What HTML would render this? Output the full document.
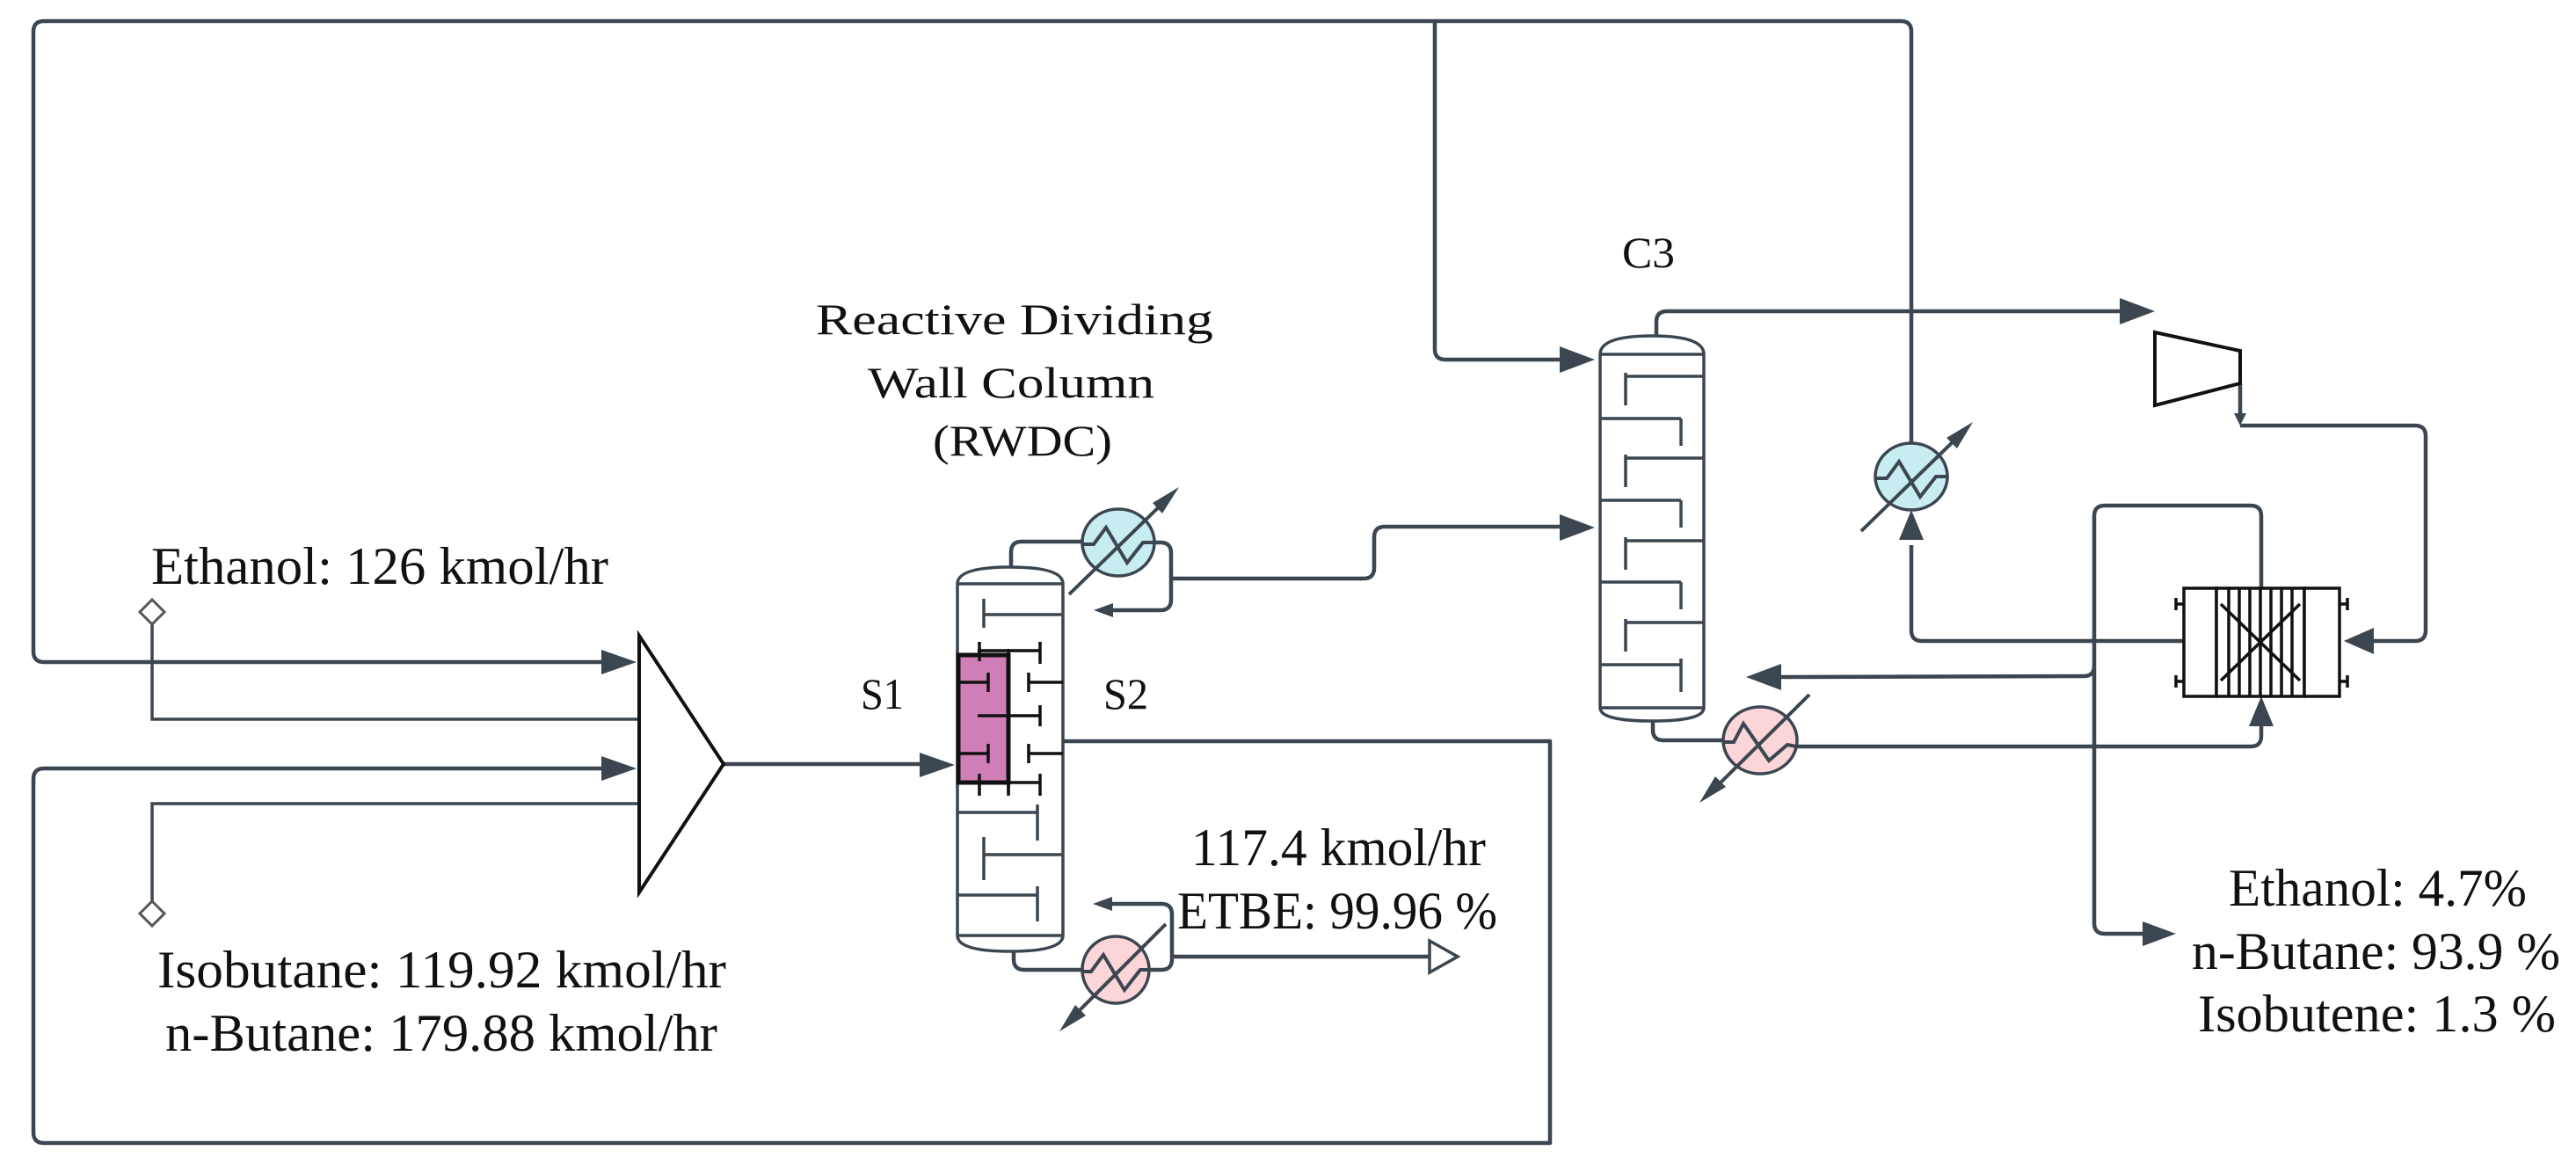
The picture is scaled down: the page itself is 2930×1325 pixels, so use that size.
<!DOCTYPE html>
<html><head><meta charset="utf-8"><style>
html,body{margin:0;padding:0;background:#fff;}
svg{display:block;}
text{font-family:"Liberation Serif",serif;fill:#111;}
</style></head><body>
<svg width="2930" height="1325" viewBox="0 0 2930 1325" xmlns="http://www.w3.org/2000/svg">
<g fill="none" stroke="#3b4651" stroke-width="4.5" stroke-linejoin="round">
<path d="M684,753 L50,753 Q38,753 38,741 L38,36 Q38,24 50,24 L2162,24 Q2174,24 2174,36 L2174,505"/>
<path d="M1632,24 L1632,397 Q1632,409 1644,409 L1784,409"/>
<path d="M1209,843 L1763,843 L1763,1300 L50,1300 Q38,1300 38,1288 L38,886 Q38,874 50,874 L690,874"/>
<path d="M823,869 L1050,869"/>
<path d="M1150,645 L1150,628 Q1150,616 1162,616 L1231,616"/>
<path d="M1313,617 L1320,617 Q1332,617 1332,629 L1332,682 Q1332,694 1320,694 L1262,694"/>
<path d="M1332,658 L1551,658 Q1563,658 1563,646 L1563,611 Q1563,599 1575,599 L1784,599"/>
<path d="M1153,1080 L1153,1091 Q1153,1103 1165,1103 L1231,1103"/>
<path d="M1307,1103 L1321,1103 Q1333,1103 1333,1091 L1333,1040 Q1333,1028 1321,1028 L1262,1028"/>
<path d="M1333,1088 L1626,1088"/>
<path d="M1884,382 L1884,366 Q1884,354 1896,354 L2418,354"/>
<path d="M2548,436 L2548,472"/>
<path d="M2548,484 L2747,484 Q2759,484 2759,496 L2759,717 Q2759,729 2747,729 L2695,729"/>
<path d="M1880,818 L1880,830 Q1880,842 1892,842 L1960,842"/>
<path d="M2043,849 L2560,849 Q2572,849 2572,837 L2572,825"/>
<path d="M2572,669 L2572,587 Q2572,575 2560,575 L2394,575 Q2382,575 2382,587 L2382,1050 Q2382,1062 2394,1062 L2440,1062"/>
<path d="M2382,757 Q2382,769 2370,769 L2020,770"/>
<path d="M2484,729 L2186,729 Q2174,729 2174,717 L2174,620"/>
</g>
<g stroke="#3b4651" stroke-width="3.5" fill="none">
<path d="M173,710 L173,818 L727,818"/>
<path d="M173,1025 L173,914 L727,914"/>
</g>
<g fill="#fff" stroke="#555" stroke-width="3">
<polygon points="173,682 187,696 173,710 159,696"/>
<polygon points="173,1025 187,1039 173,1053 159,1039"/>
</g>
<!-- arrowheads -->
<g fill="#3b4651">
<polygon points="684,739 724,753 684,767"/>
<polygon points="684,860 724,874 684,888"/>
<polygon points="1046,856 1086,870 1046,884"/>
<polygon points="1244,694 1266,686 1266,702"/>
<polygon points="1243,1028 1265,1020 1265,1036"/>
<polygon points="1774,394 1814,409 1774,424"/>
<polygon points="1774,585 1814,600 1774,615"/>
<polygon points="2411,339 2451,354 2411,369"/>
<polygon points="2541,470 2548,484 2555,470"/>
<polygon points="1986,770 2026,755 2026,785"/>
<polygon points="2666,729 2700,714 2700,744"/>
<polygon points="2572,792 2558,826 2586,826"/>
<polygon points="2174,580 2160,614 2188,614"/>
<polygon points="2475,1062 2437,1048 2437,1076"/>
</g>
<polygon points="1626,1070 1658,1088 1626,1106" fill="#fff" stroke="#3b4651" stroke-width="3.5"/>
<!-- mixer -->
<polygon points="727,723 823,869 727,1015" fill="#fff" stroke="#111" stroke-width="4"/>
<!-- RWDC column -->
<g stroke="#3b4651" stroke-width="3.5" fill="#fff">
<path d="M1089,664 Q1089,645 1149,645 Q1209,645 1209,664 L1209,1064 Q1209,1082 1149,1082 Q1089,1082 1089,1064 Z"/>
<path d="M1089,664 L1209,664 M1089,1064 L1209,1064" fill="none"/>
<path d="M1119,699 L1209,699 M1119,681 L1119,714" fill="none"/>
<path d="M1089,924 L1180,924 M1180,915 L1180,956 M1119,972 L1209,972 M1119,952 L1119,1001 M1089,1018 L1180,1018 M1180,1008 L1180,1048" fill="none"/>
</g>
<rect x="1090" y="745" width="57" height="145" fill="#cf7fb6" stroke="#111" stroke-width="5"/>
<g stroke="#111" stroke-width="3.5" fill="none">
<path d="M1147,738 L1147,902"/>
<path d="M1112,740 L1183,740 M1183,730 L1183,755"/>
<path d="M1170,776 L1209,776 M1170,765 L1170,787"/>
<path d="M1112,814 L1183,814 M1183,802 L1183,826"/>
<path d="M1170,857 L1209,857 M1170,846 L1170,868"/>
<path d="M1112,890 L1183,890 M1183,880 L1183,905"/>
<path d="M1090,776 L1124,776 M1124,765 L1124,787"/>
<path d="M1090,857 L1124,857 M1124,846 L1124,868"/>
<path d="M1114,730 L1114,752 M1114,880 L1114,905 M1147,890 L1147,905"/>
</g>
<!-- C3 column -->
<g stroke="#3b4651" stroke-width="3.5" fill="#fff">
<path d="M1820,403 Q1820,382 1879,382 Q1938,382 1938,403 L1938,805 Q1938,820 1879,820 Q1820,820 1820,805 Z"/>
<g fill="none">
<path d="M1820,403 L1938,403 M1820,805 L1938,805"/>
<path d="M1849,428 L1938,428 M1849,424 L1849,461"/>
<path d="M1820,476 L1912,476 M1912,476 L1912,507"/>
<path d="M1849,521 L1938,521 M1849,517 L1849,554"/>
<path d="M1820,569 L1912,569 M1912,569 L1912,600"/>
<path d="M1849,615 L1938,615 M1849,611 L1849,648"/>
<path d="M1820,662 L1912,662 M1912,662 L1912,693"/>
<path d="M1849,708 L1938,708 M1849,704 L1849,741"/>
<path d="M1820,756 L1912,756 M1912,749 L1912,787"/>
</g>
</g>
<!-- heat exchangers (circles) -->
<g stroke="#3b4651" stroke-width="3.5">
<ellipse cx="1272" cy="617" rx="41" ry="38" fill="#c8edf1"/>
<ellipse cx="2174" cy="542" rx="41" ry="38" fill="#c8edf1"/>
<ellipse cx="1269" cy="1103" rx="38" ry="38" fill="#fbd5d7"/>
<ellipse cx="2002" cy="842" rx="42" ry="38" fill="#fbd5d7"/>
</g>
<g stroke="#3b4651" stroke-width="4" fill="none">
<path d="M1231,619 L1244,619 L1258,600 L1282,640 L1300,617 L1313,617"/>
<path d="M2133,544 L2146,544 L2160,525 L2184,565 L2202,542 L2215,542"/>
<path d="M1231,1105 L1241,1105 L1255,1086 L1279,1126 L1297,1103 L1307,1103"/>
<path d="M1960,844 L1972,844 L1983,823 L2012,865 L2033,847 L2043,849"/>
<path d="M1216,676 L1328,567"/>
<path d="M2117,604 L2232,492"/>
<path d="M1326,1051 L1216,1161"/>
<path d="M2058,790 L1945,902"/>
</g>
<g fill="#3b4651">
<polygon points="1341,554 1322,584 1311,572"/>
<polygon points="2244,480 2226,510 2214,498"/>
<polygon points="1205,1173 1223,1143 1235,1155"/>
<polygon points="1933,913 1951,883 1963,895"/>
</g>
<!-- compressor -->
<polygon points="2451,378 2548,399 2548,436 2451,461" fill="#fff" stroke="#111" stroke-width="4"/>
<!-- HX -->
<g stroke="#111" stroke-width="3.5" fill="#fff">
<rect x="2484" y="669" width="37" height="123"/>
<rect x="2521" y="669" width="100" height="123"/>
<rect x="2621" y="669" width="40" height="123"/>
<g fill="none">
<path d="M2535,669 L2535,792 M2547,669 L2547,792 M2559,669 L2559,792 M2571,669 L2571,792 M2583,669 L2583,792 M2595,669 L2595,792 M2607,669 L2607,792"/>
<path d="M2526,687 L2616,774 M2526,774 L2616,687"/>
<path d="M2475,687 L2484,687 M2475,680 L2475,694 M2475,775 L2484,775 M2475,768 L2475,782"/>
<path d="M2661,687 L2670,687 M2670,680 L2670,694 M2661,775 L2670,775 M2670,768 L2670,782"/>
</g>
</g>
<!-- texts -->
<g font-size="60">
<text x="172" y="664" textLength="520" lengthAdjust="spacingAndGlyphs">Ethanol: 126 kmol/hr</text>
<text x="179" y="1123" textLength="647" lengthAdjust="spacingAndGlyphs">Isobutane: 119.92 kmol/hr</text>
<text x="188" y="1195" textLength="628" lengthAdjust="spacingAndGlyphs">n-Butane: 179.88 kmol/hr</text>
<text x="2535" y="1030" textLength="339" lengthAdjust="spacingAndGlyphs">Ethanol: 4.7%</text>
<text x="2493" y="1102" textLength="419" lengthAdjust="spacingAndGlyphs">n-Butane: 93.9 %</text>
<text x="2500" y="1173" textLength="407" lengthAdjust="spacingAndGlyphs">Isobutene: 1.3 %</text>
<text x="1355" y="984" textLength="335" lengthAdjust="spacingAndGlyphs">117.4 kmol/hr</text>
<text x="1339" y="1056" textLength="364" lengthAdjust="spacingAndGlyphs">ETBE: 99.96 %</text>
</g>
<g font-size="50">
<text x="928" y="380" textLength="452" lengthAdjust="spacingAndGlyphs">Reactive Dividing</text>
<text x="987" y="452" textLength="326" lengthAdjust="spacingAndGlyphs">Wall Column</text>
<text x="1061" y="518" textLength="204" lengthAdjust="spacingAndGlyphs">(RWDC)</text>
<text x="979" y="806" textLength="49" lengthAdjust="spacingAndGlyphs">S1</text>
<text x="1255" y="806" textLength="51" lengthAdjust="spacingAndGlyphs">S2</text>
<text x="1845" y="304" textLength="60" lengthAdjust="spacingAndGlyphs">C3</text>
</g>
</svg>
</body></html>
